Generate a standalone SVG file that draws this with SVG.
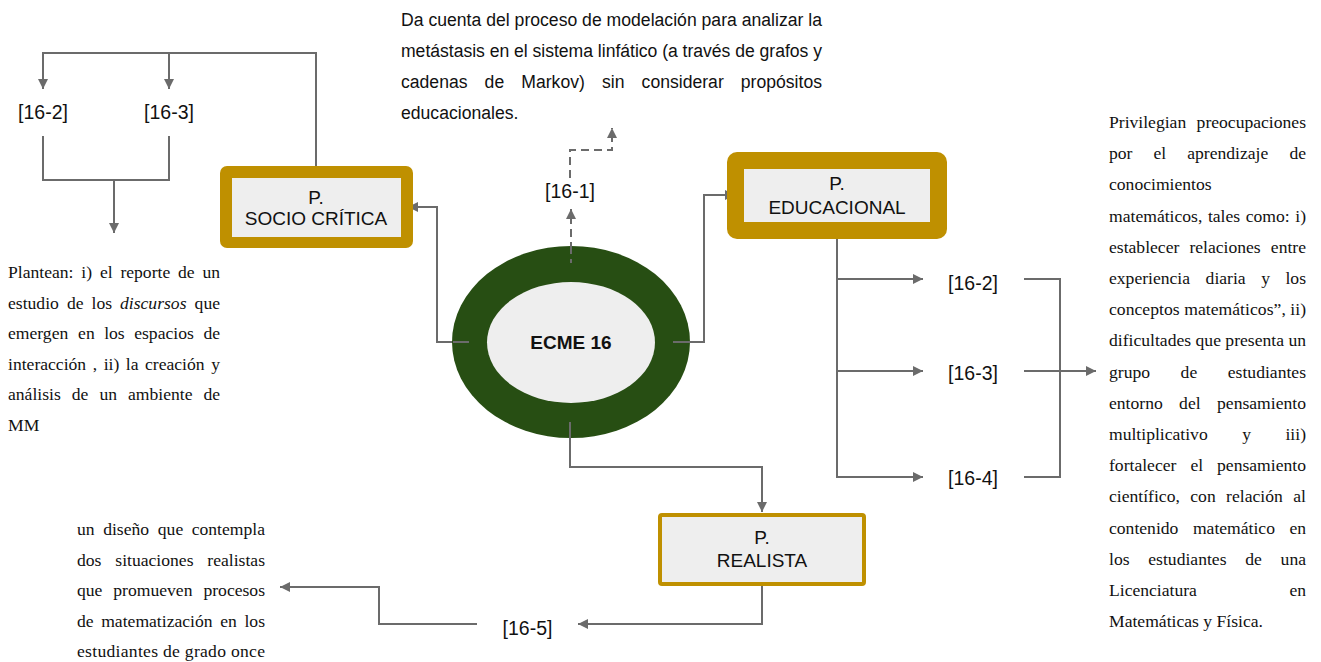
<svg xmlns="http://www.w3.org/2000/svg" width="1321" height="662" viewBox="0 0 1321 662">
<style>
.bg{fill:#ffffff}
.gold{fill:#bf9000}
.inner{fill:#eeeeee}
.lbl{font-family:"Liberation Sans",Arial,sans-serif;font-size:19.5px;fill:#111;text-anchor:middle}
.box{font-family:"Liberation Sans",Arial,sans-serif;font-size:19px;fill:#111;text-anchor:middle}
.top{font-family:"Liberation Sans",Arial,sans-serif;font-size:17.6px;fill:#111}
.tm{font-family:"Liberation Serif","Times New Roman",serif;font-size:17.6px;fill:#111}
.e{text-anchor:end}
.m{text-anchor:middle}
.c{fill:none;stroke:#6b6b6b;stroke-width:2}
.d{stroke-dasharray:8 5}
</style>
<defs>
<marker id="ah" viewBox="0 0 10 10" refX="10" refY="5" markerWidth="11" markerHeight="10" markerUnits="userSpaceOnUse" orient="auto">
<path d="M0,0 L10,5 L0,10 z" fill="#6b6b6b"/>
</marker>
</defs>
<rect class="bg" x="0" y="0" width="1321" height="662"/>

<g id="connectors">
<path class="c" d="M469,342 H437 V207 H408" marker-end="url(#ah)"/>
<path class="c" d="M673,342 H704 V195 H735" marker-end="url(#ah)"/>
<path class="c d" d="M571,263 V209" marker-end="url(#ah)"/>
<path class="c d" d="M570,178 V150 H612 V128" marker-end="url(#ah)"/>
<path class="c" d="M570,422 V467 H762 V512" marker-end="url(#ah)"/>
<path class="c" d="M762,586 V624 H578" marker-end="url(#ah)"/>
<path class="c" d="M477,624 H379 V587 H280" marker-end="url(#ah)"/>
<path class="c" d="M837,229 V477 H923" marker-end="url(#ah)"/>
<path class="c" d="M837,279 H923" marker-end="url(#ah)"/>
<path class="c" d="M837,371 H923" marker-end="url(#ah)"/>
<path class="c" d="M1024,279 H1060 V477 H1024"/>
<path class="c" d="M1024,371 H1096" marker-end="url(#ah)"/>
<path class="c" d="M316,166 V53 H43 V89" marker-end="url(#ah)"/>
<path class="c" d="M169,53 V89" marker-end="url(#ah)"/>
<path class="c" d="M43,136 V180 H169 V136"/>
<path class="c" d="M114,180 V233" marker-end="url(#ah)"/>
</g>

<g id="ecme16">
<ellipse cx="571" cy="342" rx="119" ry="96" fill="#274e13"/>
<ellipse cx="571" cy="342.5" rx="84" ry="60.5" fill="#eeeeee"/>
<path class="c d" d="M571,246 V263"/>
<path class="c" d="M453,342 H469 M673,342 H690 M570,422 V438"/>
<text x="571" y="349" font-family="Liberation Sans, Arial, sans-serif" font-size="19" font-weight="bold" text-anchor="middle" fill="#111">ECME 16</text>
</g>

<g id="socio-critica">
<rect class="gold" x="220" y="166" width="193" height="82" rx="7"/>
<rect class="inner" x="232" y="178" width="169" height="59"/>
<text class="box" x="316" y="203.5">P.</text>
<text class="box" x="316" y="224.5">SOCIO CRÍTICA</text>
</g>

<g id="educacional">
<rect class="gold" x="727" y="152" width="220" height="87" rx="10"/>
<rect class="inner" x="744" y="169" width="186" height="53"/>
<text class="box" x="837" y="189.5">P.</text>
<text class="box" x="837" y="213.5">EDUCACIONAL</text>
</g>

<g id="realista">
<rect x="660" y="515" width="204" height="69" rx="2" fill="#eeeeee" stroke="#bf9000" stroke-width="4"/>
<text class="box" x="762" y="543.5">P.</text>
<text class="box" x="762" y="566.5">REALISTA</text>
</g>

<g id="label-16-1"><text class="lbl" x="570" y="198">[16-1]</text></g>
<g id="label-left-16-2"><text class="lbl" x="43" y="118.5">[16-2]</text></g>
<g id="label-left-16-3"><text class="lbl" x="169" y="118.5">[16-3]</text></g>
<g id="label-right-16-2"><text class="lbl" x="973" y="289.5">[16-2]</text></g>
<g id="label-right-16-3"><text class="lbl" x="973" y="379.5">[16-3]</text></g>
<g id="label-right-16-4"><text class="lbl" x="973" y="484.5">[16-4]</text></g>
<g id="label-16-5"><text class="lbl" x="527.5" y="634.5">[16-5]</text></g>

<g id="text-top">
<text class="top" x="401" y="25.5" textLength="421" lengthAdjust="spacing">Da cuenta del proceso de modelación para analizar la</text>
<text class="top" x="401" y="57" textLength="421" lengthAdjust="spacing">metástasis en el sistema linfático (a través de grafos y</text>
<text class="top" y="88"><tspan x="401">cadenas</tspan><tspan x="484.6">de</tspan><tspan x="521.3">Markov)</tspan><tspan x="602">sin</tspan><tspan x="641.6">considerar</tspan></text>
<text class="top e" x="822" y="88">propósitos</text>
<text class="top" x="401" y="119">educacionales.</text>
</g>

<g id="text-socio">
<text class="tm" y="278"><tspan x="8">Plantean:</tspan><tspan x="81.3">i)</tspan><tspan x="99.9">el</tspan><tspan x="120.4">reporte</tspan><tspan x="178">de</tspan></text>
<text class="tm e" x="220" y="278">un</text>
<text class="tm" y="308.5"><tspan x="8">estudio</tspan><tspan x="66.9">de</tspan><tspan x="91.5">los</tspan><tspan x="120" font-style="italic">discursos</tspan></text>
<text class="tm e" x="220" y="308.5">que</text>
<text class="tm" y="339"><tspan x="8">emergen</tspan><tspan x="78.1">en</tspan><tspan x="104.2">los</tspan><tspan x="134.2">espacios</tspan></text>
<text class="tm e" x="220" y="339">de</text>
<text class="tm" y="369.5"><tspan x="8">interacción</tspan><tspan x="92.7">,</tspan><tspan x="103.7">ii)</tspan><tspan x="125.8">la</tspan><tspan x="145">creación</tspan></text>
<text class="tm e" x="220" y="369.5">y</text>
<text class="tm" y="400"><tspan x="8">análisis</tspan><tspan x="71.8">de</tspan><tspan x="99.4">un</tspan><tspan x="128">ambiente</tspan></text>
<text class="tm e" x="220" y="400">de</text>
<text class="tm" x="8" y="430.5">MM</text>
</g>

<g id="text-educacional">
<text class="tm" x="1109" y="128">Privilegian</text><text class="tm e" x="1306" y="128">preocupaciones</text>
<text class="tm" y="159.2"><tspan x="1109">por</tspan><tspan x="1153.5">el</tspan><tspan x="1187.2">aprendizaje</tspan></text><text class="tm e" x="1306" y="159.2">de</text>
<text class="tm" x="1109" y="190.4">conocimientos</text>
<text class="tm" y="221.6"><tspan x="1109">matemáticos,</tspan><tspan x="1207.9">tales</tspan><tspan x="1245.7">como:</tspan></text><text class="tm e" x="1306" y="221.6">i)</text>
<text class="tm" y="252.8"><tspan x="1109">establecer</tspan><tspan x="1189.4">relaciones</tspan></text><text class="tm e" x="1306" y="252.8">entre</text>
<text class="tm" y="284"><tspan x="1109">experiencia</tspan><tspan x="1205.6">diaria</tspan><tspan x="1261.2">y</tspan></text><text class="tm e" x="1306" y="284">los</text>
<text class="tm" x="1109" y="315.2" textLength="197" lengthAdjust="spacing">conceptos matemáticos”, ii)</text>
<text class="tm" x="1109" y="346.4" textLength="197" lengthAdjust="spacing">dificultades que presenta un</text>
<text class="tm" y="377.6"><tspan x="1109">grupo</tspan><tspan x="1180.6">de</tspan></text><text class="tm e" x="1306" y="377.6">estudiantes</text>
<text class="tm" y="408.8"><tspan x="1109">entorno</tspan><tspan x="1179.1">del</tspan></text><text class="tm e" x="1306" y="408.8">pensamiento</text>
<text class="tm" y="440"><tspan x="1109">multiplicativo</tspan><tspan x="1242.2">y</tspan></text><text class="tm e" x="1306" y="440">iii)</text>
<text class="tm" y="471.2"><tspan x="1109">fortalecer</tspan><tspan x="1190.4">el</tspan></text><text class="tm e" x="1306" y="471.2">pensamiento</text>
<text class="tm" y="502.4"><tspan x="1109">científico,</tspan><tspan x="1190.3">con</tspan><tspan x="1226.1">relación</tspan></text><text class="tm e" x="1306" y="502.4">al</text>
<text class="tm" y="533.6"><tspan x="1109">contenido</tspan><tspan x="1192.9">matemático</tspan></text><text class="tm e" x="1306" y="533.6">en</text>
<text class="tm" y="564.8"><tspan x="1109">los</tspan><tspan x="1148.3">estudiantes</tspan><tspan x="1245.3">de</tspan></text><text class="tm e" x="1306" y="564.8">una</text>
<text class="tm" x="1109" y="596">Licenciatura</text><text class="tm e" x="1306" y="596">en</text>
<text class="tm" x="1109" y="627.2">Matemáticas y Física.</text>
</g>

<g id="text-realista">
<text class="tm" y="535"><tspan x="77">un</tspan><tspan x="103.2">diseño</tspan><tspan x="157.8">que</tspan></text><text class="tm e" x="265" y="535">contempla</text>
<text class="tm" y="565.6"><tspan x="77">dos</tspan><tspan x="115.3">situaciones</tspan></text><text class="tm e" x="265" y="565.6">realistas</text>
<text class="tm" y="596.2"><tspan x="77">que</tspan><tspan x="113.3">promueven</tspan></text><text class="tm e" x="265" y="596.2">procesos</text>
<text class="tm" y="626.8"><tspan x="77">de</tspan><tspan x="101.2">matematización</tspan><tspan x="220.2">en</tspan></text><text class="tm e" x="265" y="626.8">los</text>
<text class="tm" x="77" y="657.4" textLength="188" lengthAdjust="spacing">estudiantes de grado once</text>
</g>
</svg>
